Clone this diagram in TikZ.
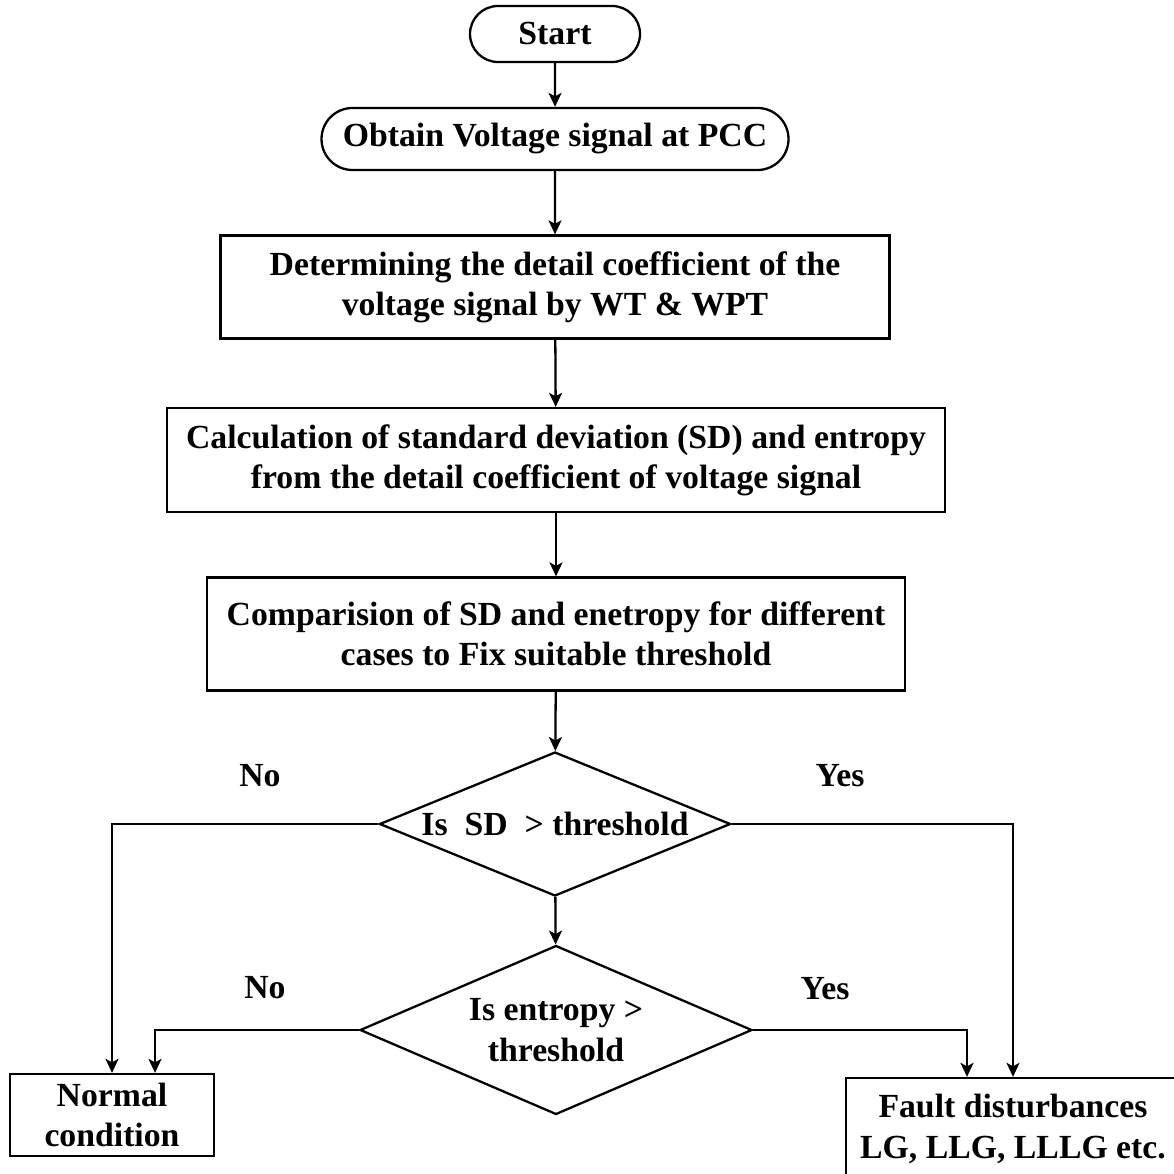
\documentclass[tikz,border=0pt]{standalone}
\usepackage{fontspec}
\setmainfont{Liberation Serif}
\usetikzlibrary{positioning,shapes.geometric,shapes.misc,arrows.meta}
\tikzset{every picture/.style={line width=1.3pt}}

\begin{document}
\begin{tikzpicture}[>={Stealth[length=2.8mm,width=2.6mm,inset=0.7mm]},
    every node/.style={font=\fontsize{19.2}{22.9}\selectfont\bfseries, align=center},
    pill/.style={rounded rectangle, draw, inner sep=0pt},
    procbox/.style={rectangle, draw, inner sep=0pt},
    decision/.style={diamond, draw, inner sep=0pt}]
        \useasboundingbox (0,0) rectangle (23.48,-23.48);
        % inicio e aquisicao
        \node[pill, minimum width=3.4cm, minimum height=1.12cm] (start) at (11.1, -0.68) {Start};
        \node[pill, minimum width=9.34cm, minimum height=1.24cm] (obtain) at (11.1, -2.78) {Obtain Voltage signal at PCC};
        % processamento
        \node[procbox, minimum width=13.38cm, minimum height=2.06cm] (wt) at (11.1, -5.74)
            {Determining the detail coefficient of the\\voltage signal by WT \& WPT};
        \node[procbox, minimum width=15.56cm, minimum height=2.08cm] (calc) at (11.12, -9.2)
            {Calculation of standard deviation (SD) and entropy\\from the detail coefficient of voltage signal};
        \node[procbox, minimum width=13.96cm, minimum height=2.26cm] (comp) at (11.12, -12.68)
            {Comparision of SD and enetropy for different\\cases to Fix suitable threshold};
        % decisoes
        \node[decision, minimum width=7.02cm, minimum height=2.88cm, aspect=2.44] (sd) at (11.1, -16.48)
            {Is~~SD~~> threshold};
        \node[decision, minimum width=7.84cm, minimum height=3.38cm, aspect=2.32] (ent) at (11.12, -20.6)
            {Is entropy >\\threshold};
        % saidas
        \node[procbox, minimum width=4.08cm, minimum height=1.64cm] (normal) at (2.24, -22.3)
            {Normal\\condition};
        \node[procbox, minimum width=6.68cm, minimum height=2.04cm] (fault) at (20.26, -22.58)
            {Fault disturbances\\LG, LLG, LLLG etc.};
        \draw[->] (start) -- (obtain);
        \draw[->] (obtain) -- (wt);
        \draw[->] (wt) -- (calc);
        \draw[->] (calc) -- (comp);
        \draw[->] (comp) -- (sd);
        \draw[->] (sd) -- (ent);
        \draw[->] (sd.west) -| (normal.north);
        \draw[->] (ent.west) -| ([xshift=0.86cm]normal.north);
        \draw[->] (sd.east) -| (fault.north);
        \draw[->] (ent.east) -| ([xshift=-0.92cm]fault.north);
        % rotulos dos ramos
        \node (no1) at (5.2, -15.52) {No};
        \node (yes1) at (16.8, -15.52) {Yes};
        \node (no2) at (5.3, -19.76) {No};
        \node (yes2) at (16.5, -19.78) {Yes};
    \end{tikzpicture}
\end{document}
